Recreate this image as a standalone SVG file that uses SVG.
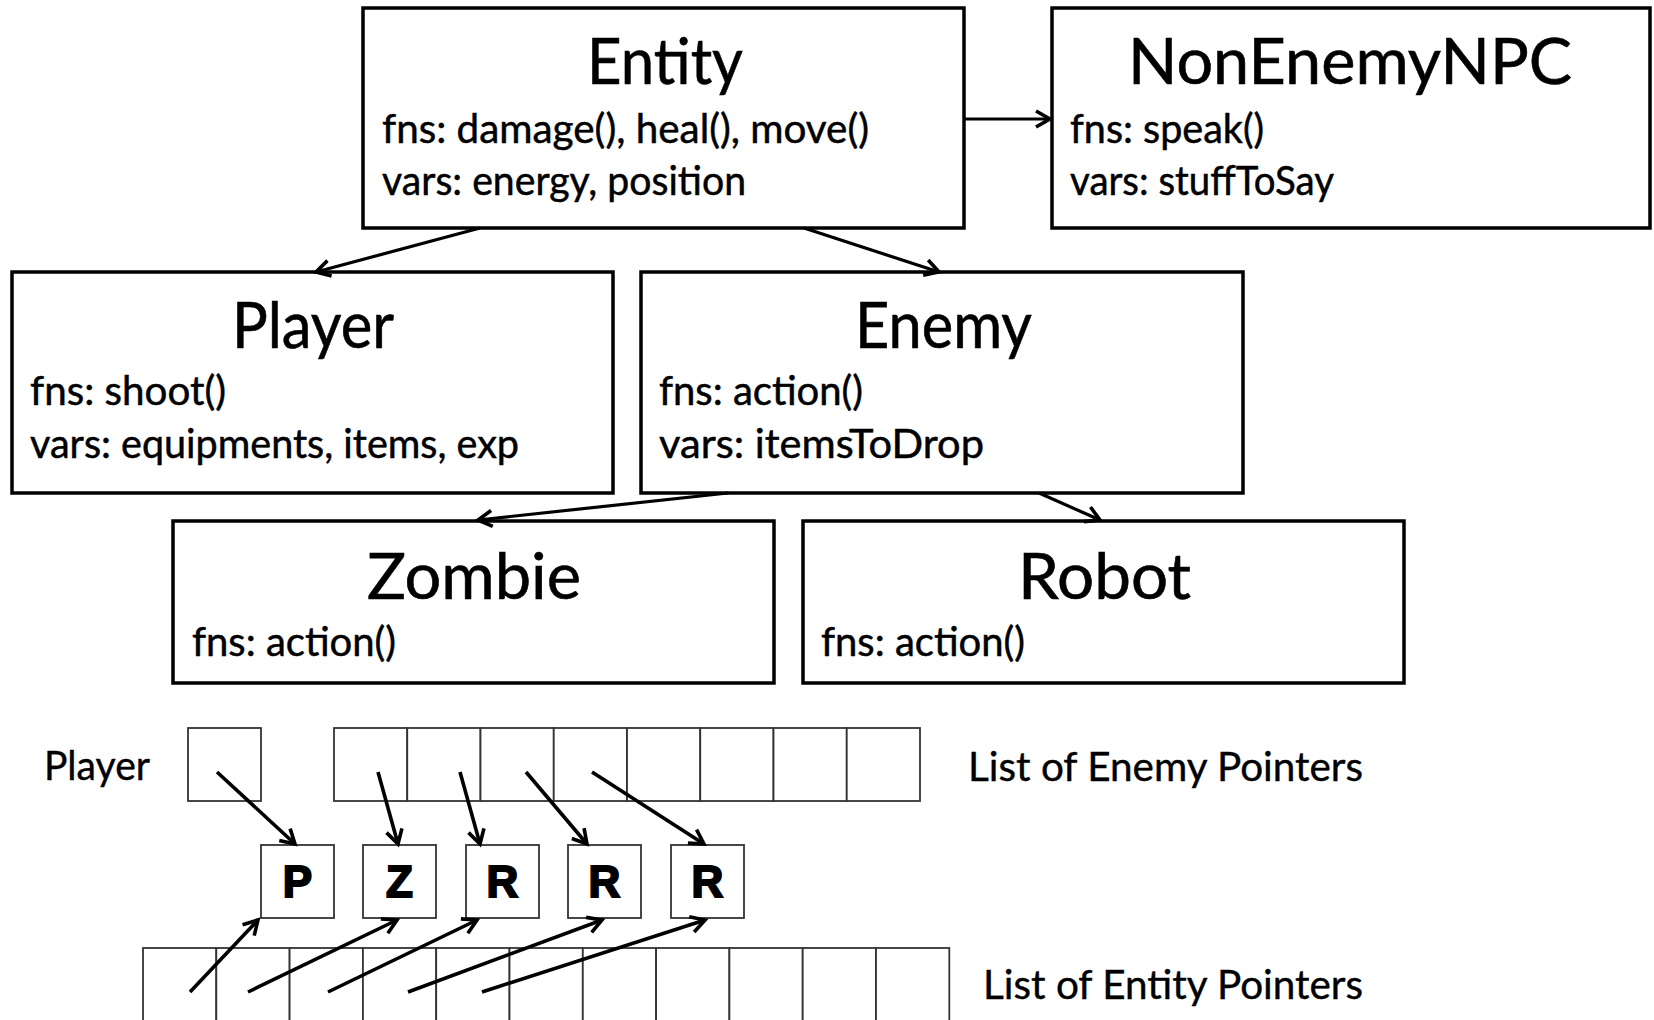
<svg xmlns="http://www.w3.org/2000/svg" width="1654" height="1020" viewBox="0 0 1654 1020">
  <style>
    .box { fill: #fff; stroke: #000; stroke-width: 3.5; }
    .cell { fill: #fff; stroke: #333; stroke-width: 1.8; }
    .title { font-family: Lato, "Open Sans", sans-serif; font-size: 64px; fill: #000; stroke: #000; stroke-width: 0.6; }
    .body { font-family: Lato, "Open Sans", sans-serif; font-size: 41px; fill: #000; stroke: #000; stroke-width: 0.5; }
    .label { font-family: Lato, "Open Sans", sans-serif; font-size: 40px; fill: #000; stroke: #000; stroke-width: 0.4; }
    .tag { font-family: "Liberation Sans", Arial, sans-serif; font-size: 44px; font-weight: bold; fill: #000; stroke: #000; stroke-width: 2; text-anchor: middle; }
    .edge { fill: none; stroke: #000; stroke-width: 3.2; }
    .ptr { fill: none; stroke: #000; stroke-width: 3.6; }
  </style>
  <defs>
    <marker id="head" markerUnits="userSpaceOnUse" viewBox="-20 -15 30 30" markerWidth="30" markerHeight="30" refX="0" refY="0" orient="auto" overflow="visible">
      <path d="M-14,-8 L0,0 L-14,8" fill="none" stroke="#000" stroke-width="3.6"/>
    </marker>
  </defs>

  <rect width="1654" height="1020" fill="#fff"/>

  <!-- class hierarchy -->
  <g id="entity">
    <rect class="box" x="363" y="8" width="601" height="220"/>
    <text class="title" x="587" y="84" textLength="156" lengthAdjust="spacingAndGlyphs">Entity</text>
    <text class="body" x="382" y="143" textLength="487" lengthAdjust="spacingAndGlyphs">fns: damage(), heal(), move()</text>
    <text class="body" x="382" y="195" textLength="364" lengthAdjust="spacingAndGlyphs">vars: energy, position</text>
  </g>

  <g id="non-enemy-npc">
    <rect class="box" x="1052" y="8" width="598" height="220"/>
    <text class="title" x="1128" y="84" textLength="444" lengthAdjust="spacingAndGlyphs">NonEnemyNPC</text>
    <text class="body" x="1070" y="143" textLength="194" lengthAdjust="spacingAndGlyphs">fns: speak()</text>
    <text class="body" x="1070" y="195" textLength="264" lengthAdjust="spacingAndGlyphs">vars: stuffToSay</text>
  </g>

  <g id="player">
    <rect class="box" x="12" y="272" width="601" height="221"/>
    <text class="title" x="232" y="348" textLength="162" lengthAdjust="spacingAndGlyphs">Player</text>
    <text class="body" x="30" y="405" textLength="196" lengthAdjust="spacingAndGlyphs">fns: shoot()</text>
    <text class="body" x="30" y="458" textLength="489" lengthAdjust="spacingAndGlyphs">vars: equipments, items, exp</text>
  </g>

  <g id="enemy">
    <rect class="box" x="641" y="272" width="602" height="221"/>
    <text class="title" x="855" y="348" textLength="177" lengthAdjust="spacingAndGlyphs">Enemy</text>
    <text class="body" x="659" y="405" textLength="204" lengthAdjust="spacingAndGlyphs">fns: action()</text>
    <text class="body" x="659" y="458" textLength="325" lengthAdjust="spacingAndGlyphs">vars: itemsToDrop</text>
  </g>

  <g id="zombie">
    <rect class="box" x="173" y="521" width="601" height="162"/>
    <text class="title" x="367" y="599" textLength="214" lengthAdjust="spacingAndGlyphs">Zombie</text>
    <text class="body" x="192" y="656" textLength="204" lengthAdjust="spacingAndGlyphs">fns: action()</text>
  </g>

  <g id="robot">
    <rect class="box" x="803" y="521" width="601" height="162"/>
    <text class="title" x="1018" y="599" textLength="173" lengthAdjust="spacingAndGlyphs">Robot</text>
    <text class="body" x="821" y="656" textLength="204" lengthAdjust="spacingAndGlyphs">fns: action()</text>
  </g>

  <!-- inheritance connectors -->
  <g id="connectors">
    <line class="edge" x1="964" y1="119" x2="1050" y2="119" marker-end="url(#head)"/>
    <line class="edge" x1="480" y1="228" x2="316" y2="272" marker-end="url(#head)"/>
    <line class="edge" x1="804" y1="228" x2="939" y2="272" marker-end="url(#head)"/>
    <line class="edge" x1="728" y1="493" x2="478" y2="520" marker-end="url(#head)"/>
    <line class="edge" x1="1039" y1="493" x2="1100" y2="520" marker-end="url(#head)"/>
  </g>

  <!-- memory layout: pointer lists and objects -->
  <g id="player-pointer">
    <text class="label" x="44" y="780" textLength="106" lengthAdjust="spacingAndGlyphs">Player</text>
    <rect class="cell" x="188" y="728" width="73" height="73"/>
  </g>

  <g id="enemy-list">
    <rect class="cell" x="334" y="728" width="73.25" height="73"/>
    <rect class="cell" x="407.25" y="728" width="73.25" height="73"/>
    <rect class="cell" x="480.5" y="728" width="73.25" height="73"/>
    <rect class="cell" x="553.75" y="728" width="73.25" height="73"/>
    <rect class="cell" x="627" y="728" width="73.25" height="73"/>
    <rect class="cell" x="700.25" y="728" width="73.25" height="73"/>
    <rect class="cell" x="773.5" y="728" width="73.25" height="73"/>
    <rect class="cell" x="846.75" y="728" width="73.25" height="73"/>
    <text class="label" x="968" y="781" textLength="395" lengthAdjust="spacingAndGlyphs">List of Enemy Pointers</text>
  </g>

  <g id="objects">
    <g id="obj-p"><rect class="cell" x="261" y="845" width="73" height="73"/><text class="tag" x="297.5" y="897">P</text></g>
    <g id="obj-z"><rect class="cell" x="363" y="845" width="73" height="73"/><text class="tag" x="399.5" y="897">Z</text></g>
    <g id="obj-r1"><rect class="cell" x="466" y="845" width="73" height="73"/><text class="tag" x="502.5" y="897">R</text></g>
    <g id="obj-r2"><rect class="cell" x="568" y="845" width="73" height="73"/><text class="tag" x="604.5" y="897">R</text></g>
    <g id="obj-r3"><rect class="cell" x="671" y="845" width="73" height="73"/><text class="tag" x="707.5" y="897">R</text></g>
  </g>

  <g id="entity-list">
    <rect class="cell" x="143" y="948" width="73.3" height="90"/>
    <rect class="cell" x="216.3" y="948" width="73.3" height="90"/>
    <rect class="cell" x="289.6" y="948" width="73.3" height="90"/>
    <rect class="cell" x="362.9" y="948" width="73.3" height="90"/>
    <rect class="cell" x="436.2" y="948" width="73.3" height="90"/>
    <rect class="cell" x="509.5" y="948" width="73.3" height="90"/>
    <rect class="cell" x="582.8" y="948" width="73.3" height="90"/>
    <rect class="cell" x="656.1" y="948" width="73.3" height="90"/>
    <rect class="cell" x="729.4" y="948" width="73.3" height="90"/>
    <rect class="cell" x="802.7" y="948" width="73.3" height="90"/>
    <rect class="cell" x="876" y="948" width="73.3" height="90"/>
    <text class="label" x="983" y="999" textLength="380" lengthAdjust="spacingAndGlyphs">List of Entity Pointers</text>
  </g>

  <!-- pointer connectors -->
  <g id="pointer-connectors">
    <line class="ptr" x1="217" y1="772" x2="295" y2="844" marker-end="url(#head)"/>
    <line class="ptr" x1="378" y1="772" x2="398" y2="844" marker-end="url(#head)"/>
    <line class="ptr" x1="460" y1="772" x2="480" y2="844" marker-end="url(#head)"/>
    <line class="ptr" x1="526" y1="772" x2="587" y2="844" marker-end="url(#head)"/>
    <line class="ptr" x1="592" y1="772" x2="704" y2="844" marker-end="url(#head)"/>
    <line class="ptr" x1="190" y1="992" x2="258" y2="920" marker-end="url(#head)"/>
    <line class="ptr" x1="248" y1="992" x2="397" y2="920" marker-end="url(#head)"/>
    <line class="ptr" x1="328" y1="992" x2="477" y2="920" marker-end="url(#head)"/>
    <line class="ptr" x1="408" y1="992" x2="602" y2="920" marker-end="url(#head)"/>
    <line class="ptr" x1="482" y1="992" x2="705" y2="920" marker-end="url(#head)"/>
  </g>
</svg>
